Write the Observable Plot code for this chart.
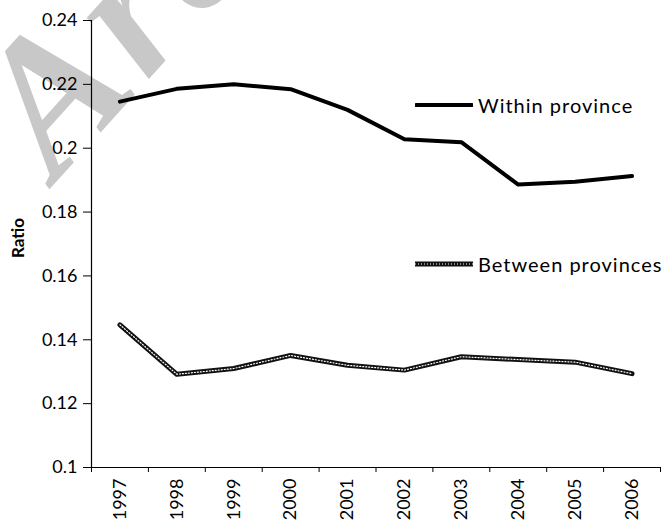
<!DOCTYPE html>
<html><head><meta charset="utf-8">
<script src="https://cdn.jsdelivr.net/npm/d3@7"></script>
<script src="https://cdn.jsdelivr.net/npm/@observablehq/plot@0.6"></script>
<style>
html,body{margin:0;padding:0;background:#fff;}
#wrap{position:relative;width:664px;height:522px;overflow:hidden;font-family:Lato,sans-serif;}
#wm,#chart{position:absolute;left:0;top:0;}
.leg{position:absolute;left:415px;display:flex;align-items:center;font-size:20px;letter-spacing:1px;color:#000;white-space:nowrap;}
.leg svg{margin-right:5px;}
</style></head><body>
<div id="wrap">
<svg id="wm" width="664" height="522"><text x="56" y="182" transform="rotate(-48 56 182)" font-family="Liberation Serif" font-style="italic" font-weight="bold" font-size="190" letter-spacing="8" fill="#c8c8c8">Archive of SID</text></svg>
<div id="chart"></div>
<div class="leg" style="top:93px"><svg width="58" height="10"><line x1="1" x2="57" y1="5" y2="5" stroke="#000" stroke-width="4" stroke-linecap="round"/></svg><span>Within province</span></div>
<div class="leg" style="top:252px"><svg width="58" height="10"><line x1="0" x2="58" y1="5" y2="5" stroke="#111" stroke-width="5"/><line x1="0" x2="58" y1="5" y2="5" stroke="#fff" stroke-width="1.2" stroke-dasharray="1 2"/></svg><span>Between provinces</span></div>
</div>
<script>
const years = ["1997","1998","1999","2000","2001","2002","2003","2004","2005","2006"];
const within = [0.2146,0.2186,0.2200,0.2185,0.2120,0.2028,0.2019,0.1886,0.1895,0.1913];
const between = [0.1447,0.1292,0.1310,0.1351,0.1320,0.1305,0.1347,0.1338,0.1330,0.1294];
const yTicks = [0.1,0.12,0.14,0.16,0.18,0.2,0.22,0.24];
const seriesNames = ["Within province","Between provinces"];

const rows = years.map((y,i)=>({i, year:y, within:within[i], between:between[i]}));
const xPos = d => d.i + 0.5;

const chart = Plot.plot({
  width: 664, height: 522,
  marginLeft: 91, marginRight: 4, marginTop: 20, marginBottom: 55,
  style: {fontFamily: "Lato, sans-serif", fontSize: "18px", background: "transparent", color: "#000"},
  x: {type: "linear", domain: [0, years.length]},
  y: {domain: [0.1, 0.24]},
  marks: [
    Plot.axisY({ticks: yTicks, tickFormat: d => String(+d.toFixed(2)), tickSize: 8, tickPadding: 6, label: null, fontSize: 18}),
    Plot.axisX({ticks: d3.range(0, years.length + 1), tickFormat: () => "", tickSize: 5, label: null}),
    Plot.ruleX([0], {stroke: "#000", strokeWidth: 1.2}),
    Plot.ruleY([0.1], {stroke: "#000", strokeWidth: 1.2}),
    Plot.text(rows, {x: xPos, text: "year", frameAnchor: "bottom", dy: 11, rotate: -90, textAnchor: "end", lineAnchor: "middle", fontSize: 18}),
    Plot.lineY(rows, {x: xPos, y: "within", stroke: "#000", strokeWidth: 4, strokeLinejoin: "round"}),
    Plot.lineY(rows, {x: xPos, y: "between", stroke: "#111", strokeWidth: 5}),
    Plot.lineY(rows, {x: xPos, y: "between", stroke: "#fff", strokeWidth: 1.2, strokeDasharray: "1 2"}),
    Plot.text(["Ratio"], {frameAnchor: "left", dx: -73, dy: -6, rotate: -90, textAnchor: "middle", lineAnchor: "middle", fontWeight: "bold", fontSize: 17, letterSpacing: 2.5})
  ]
});
document.getElementById("chart").appendChild(chart);
</script>
</body></html>
